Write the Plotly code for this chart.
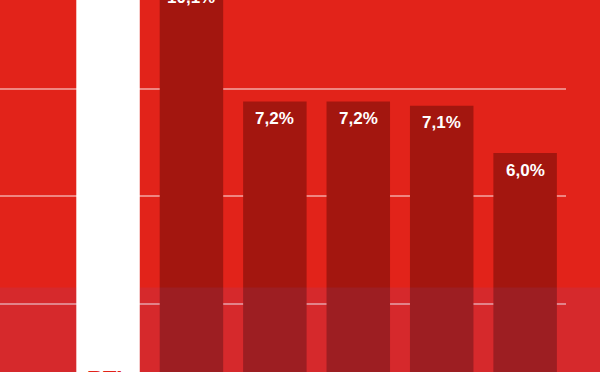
import plotly.graph_objects as go

categories = ["RTL", "B", "C", "D", "E", "F"]
values = [12.0, 10.02, 7.2, 7.2, 7.1, 6.0]
labels = ["", "10,1%", "7,2%", "7,2%", "7,1%", "6,0%"]

BG = "#E2231A"
DARK = "#A3160F"
colors = ["#FFFFFF"] + [DARK] * (len(values) - 1)
BARGAP = 0.239
X_RANGE = [-1.295, 5.49]

zero_px = 411.0
px_per = 43.0
H = 372
Y_RANGE = [(zero_px - H) / px_per, zero_px / px_per]

fig = go.Figure()
fig.add_trace(go.Bar(
    x=list(range(len(categories))), y=values,
    marker=dict(color=colors, line=dict(width=0)),
    hoverinfo="skip", showlegend=False,
))

annotations = []
for i, (v, t) in enumerate(zip(values, labels)):
    if t:
        y_anchor = min(v, Y_RANGE[1] - 1e-6)
        annotations.append(dict(
            x=i, y=y_anchor, xref="x", yref="y", text=t, showarrow=False,
            yanchor="middle", yshift=-17 + (v - y_anchor) * px_per,
            font=dict(family="Liberation Sans, Arial", size=17, color="white", weight="bold"),
        ))
annotations.append(dict(
    x=0, y=0, xref="x", yref="paper", text=categories[0], showarrow=False,
    yanchor="top", yshift=8,
    font=dict(family="Liberation Sans, Arial", size=22, color="#E2231A", weight="bold"),
))

band_top = (H - 287.5) / H
tint = "rgba(100,110,230,0.09)"
half = (1 - BARGAP) / 2
shapes = [
    dict(type="rect", xref="x", yref="paper", x0=X_RANGE[0], x1=-half, y0=-0.05, y1=band_top,
         fillcolor=tint, line=dict(width=0), layer="above"),
    dict(type="rect", xref="x", yref="paper", x0=half, x1=X_RANGE[1], y0=-0.05, y1=band_top,
         fillcolor=tint, line=dict(width=0), layer="above"),
    dict(type="rect", xref="paper", yref="paper", x0=1, x1=1.07, y0=-0.05, y1=band_top,
         fillcolor=tint, line=dict(width=0), layer="above"),
]

fig.update_layout(
    width=600, height=H,
    margin=dict(l=0, r=34, t=0, b=0, pad=0),
    paper_bgcolor=BG, plot_bgcolor=BG,
    bargap=BARGAP,
    xaxis=dict(range=X_RANGE, showticklabels=False, showgrid=False,
               zeroline=False, showline=False, ticks=""),
    yaxis=dict(range=Y_RANGE, tick0=0, dtick=2.5,
               showticklabels=False, showgrid=True, gridcolor="rgba(255,255,255,0.45)",
               gridwidth=2, zeroline=False, showline=False, ticks=""),
    annotations=annotations,
    shapes=shapes,
)

fig.write_html("out.html")
